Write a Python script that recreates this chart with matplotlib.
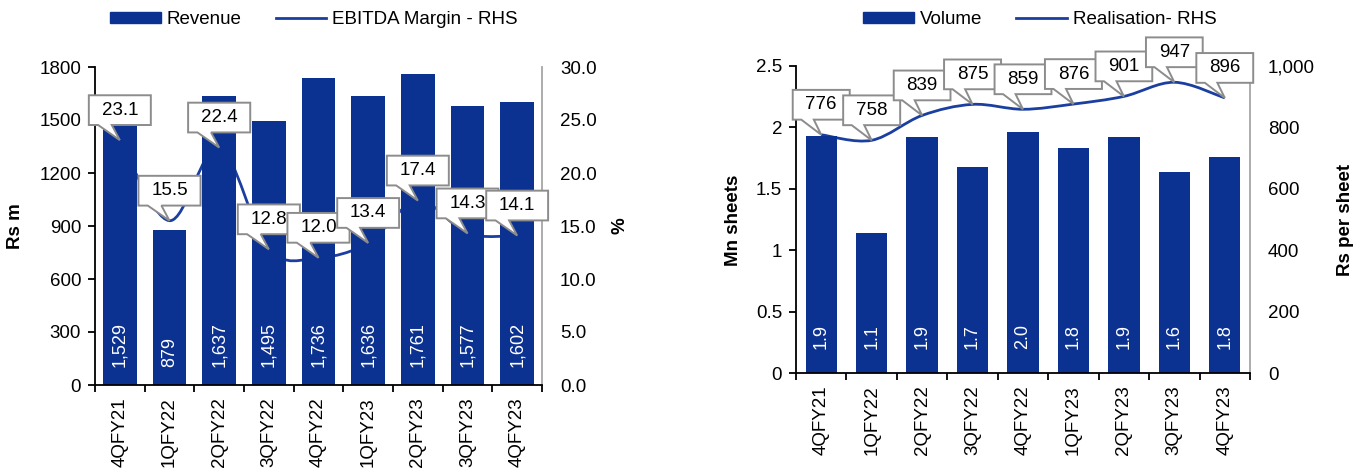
"""
Quarterly revenue / EBITDA margin and volume / realisation (two panels).
"""

import matplotlib
matplotlib.use("Agg")
import matplotlib.pyplot as plt
from matplotlib.path import Path
from matplotlib.patches import PathPatch, Patch
from matplotlib.lines import Line2D
from matplotlib.ticker import FuncFormatter, MultipleLocator

# ─── Data ─────────────────────────────────────────────────────────────────────
quarters = ["4QFY21", "1QFY22", "2QFY22", "3QFY22", "4QFY22",
            "1QFY23", "2QFY23", "3QFY23", "4QFY23"]
revenue = [1529, 879, 1637, 1495, 1736, 1636, 1761, 1577, 1602]          # Rs m
ebitda_margin = [23.1, 15.5, 22.4, 12.8, 12.0, 13.4, 17.4, 14.3, 14.1]   # %
volume = [1.93, 1.14, 1.92, 1.68, 1.96, 1.83, 1.92, 1.64, 1.76]          # Mn sheets
realisation = [776, 758, 839, 875, 859, 876, 901, 947, 896]              # Rs/sheet

# ─── Style ────────────────────────────────────────────────────────────────────
BAR_COL = "#0C3291"
LINE_COL = "#1A3FA0"
GREY = "#8C8C8C"
FS = 13.5
DPI = 100
TAIL_PT = 21.6          # callout box centre sits this far above its point

plt.rcParams["font.family"] = ["Liberation Sans", "DejaVu Sans"]
plt.rcParams["font.size"] = FS


def smooth_path(xs, ys):
    """Excel-like smoothed line: Catmull-Rom segments as cubic Bezier."""
    n = len(xs)
    verts = [(xs[0], ys[0])]
    codes = [Path.MOVETO]
    for i in range(n - 1):
        a, b = max(i - 1, 0), min(i + 2, n - 1)
        c1 = (xs[i] + (xs[i + 1] - xs[a]) / 6, ys[i] + (ys[i + 1] - ys[a]) / 6)
        c2 = (xs[i + 1] - (xs[b] - xs[i]) / 6, ys[i + 1] - (ys[b] - ys[i]) / 6)
        verts += [c1, c2, (xs[i + 1], ys[i + 1])]
        codes += [Path.CURVE4] * 3
    return Path(verts, codes)


def callout_box(x0, y0, width, height, mutation_size):
    """Rectangle with a wedge tail pointing at the annotated point (one shape)."""
    px, py = 0.68 * mutation_size, 0.34 * mutation_size
    x0, y0 = x0 - px, y0 - py
    width, height = width + 2 * px, height + 2 * py
    cx, cy = x0 + width / 2, y0 + height / 2
    tip = (cx, cy - TAIL_PT * DPI / 72)
    verts = [(x0, y0), (x0 + 0.15 * width, y0), tip, (x0 + 0.37 * width, y0),
             (x0 + width, y0), (x0 + width, y0 + height), (x0, y0 + height),
             (x0, y0)]
    codes = [Path.MOVETO] + [Path.LINETO] * 6 + [Path.CLOSEPOLY]
    return Path(verts, codes)


def callouts(ax, trans, xs, ys, labels):
    for x, y, lab in zip(xs, ys, labels):
        ax.annotate(lab, xy=(x, y), xycoords=trans, xytext=(0, TAIL_PT),
                    textcoords="offset points", ha="center", va="center",
                    fontsize=FS, color="black", zorder=5,
                    bbox=dict(boxstyle=callout_box, fc="white", ec=GREY, lw=1.4))


def style_axes(ax, ax2):
    ax.set_xlim(-0.5, len(quarters) - 0.5)
    ax.set_xticks(range(len(quarters)))
    ax.set_xticklabels(quarters, rotation=90)
    ax.set_xticks([i - 0.5 for i in range(len(quarters) + 1)], minor=True)
    ax.tick_params(axis="x", which="major", length=0, pad=9)
    ax.tick_params(axis="x", which="minor", length=5, width=1.3, direction="out")
    ax.tick_params(axis="y", length=5, width=1.3, direction="out", pad=5)
    ax.spines["top"].set_visible(False)
    ax.spines["right"].set_visible(False)
    ax.spines["left"].set_linewidth(1.3)
    ax.spines["bottom"].set_linewidth(1.3)
    for s in ["top", "left", "bottom"]:
        ax2.spines[s].set_visible(False)
    ax2.spines["right"].set_color("#A6A6A6")
    ax2.spines["right"].set_linewidth(1.3)
    ax2.tick_params(axis="y", length=0, pad=13)
    # bars sit in front of the RHS line, like the source chart
    ax.set_zorder(ax2.get_zorder() + 1)
    ax.patch.set_visible(False)


fig = plt.figure(figsize=(13.59, 4.72), dpi=DPI)
x = list(range(len(quarters)))

# ─── Left panel: revenue + EBITDA margin ──────────────────────────────────────
ax1 = fig.add_axes([95 / 1359, 1 - 385 / 472, 447 / 1359, 318 / 472])
ax1b = ax1.twinx()
ax1.bar(x, revenue, width=0.68, color=BAR_COL, zorder=2)
ax1.set_ylim(0, 1800)
ax1.yaxis.set_major_locator(MultipleLocator(300))
for xi, v in zip(x, revenue):
    ax1.annotate(f"{v:,.0f}", xy=(xi, 0), xytext=(0, 13), textcoords="offset points",
                 rotation=90, ha="center", va="bottom", color="white", fontsize=13)
ax1b.set_ylim(0, 30)
ax1b.yaxis.set_major_locator(MultipleLocator(5))
ax1b.yaxis.set_major_formatter(FuncFormatter(lambda v, p: f"{v:.1f}"))
ax1b.add_patch(PathPatch(smooth_path(x, ebitda_margin), fill=False,
                         ec=LINE_COL, lw=2))
style_axes(ax1, ax1b)
callouts(ax1, ax1b.transData, x, ebitda_margin, [f"{v:.1f}" for v in ebitda_margin])

# ─── Right panel: volume + realisation ────────────────────────────────────────
ax2 = fig.add_axes([796 / 1359, 1 - 373 / 472, 454 / 1359, 307 / 472])
ax2b = ax2.twinx()
ax2.bar(x, volume, width=0.62, color=BAR_COL, zorder=2)
ax2.set_ylim(0, 2.5)
ax2.yaxis.set_major_locator(MultipleLocator(0.5))
ax2.yaxis.set_major_formatter(FuncFormatter(lambda v, p: f"{v:g}"))
for xi, v in zip(x, volume):
    ax2.annotate(f"{v:.1f}", xy=(xi, 0), xytext=(0, 17), textcoords="offset points",
                 rotation=90, ha="center", va="bottom", color="white", fontsize=13)
ax2b.set_ylim(0, 1000)
ax2b.yaxis.set_major_locator(MultipleLocator(200))
ax2b.yaxis.set_major_formatter(FuncFormatter(lambda v, p: f"{v:,.0f}"))
ax2b.add_patch(PathPatch(smooth_path(x, realisation), fill=False,
                         ec=LINE_COL, lw=2))
style_axes(ax2, ax2b)
callouts(ax2, ax2b.transData, x, realisation, [f"{v:.0f}" for v in realisation])

# ─── Axis titles ──────────────────────────────────────────────────────────────
lab = dict(rotation=90, ha="center", va="center", fontsize=FS, fontweight="bold")
fig.text(16 / 1359, 1 - 226 / 472, "Rs m", **lab)
fig.text(620 / 1359, 1 - 226 / 472, "%", **lab)
fig.text(734 / 1359, 1 - 220 / 472, "Mn sheets", **lab)
fig.text(1346 / 1359, 1 - 220 / 472, "Rs per sheet", **lab)

# ─── Legends ──────────────────────────────────────────────────────────────────
leg_kw = dict(loc="center", frameon=False, ncol=2, fontsize=FS, handlelength=2.7,
              handleheight=0.5, handletextpad=0.32, columnspacing=1.8, borderpad=0)
fig.legend([Patch(color=BAR_COL), Line2D([], [], color=LINE_COL, lw=2)],
           ["Revenue", "EBITDA Margin - RHS"],
           bbox_to_anchor=(314 / 1359, 1 - 19.5 / 472), **leg_kw)
fig.legend([Patch(color=BAR_COL), Line2D([], [], color=LINE_COL, lw=2)],
           ["Volume", "Realisation- RHS"],
           bbox_to_anchor=(1040 / 1359, 1 - 19.5 / 472), **leg_kw)

fig.savefig("out.png", dpi=DPI)
